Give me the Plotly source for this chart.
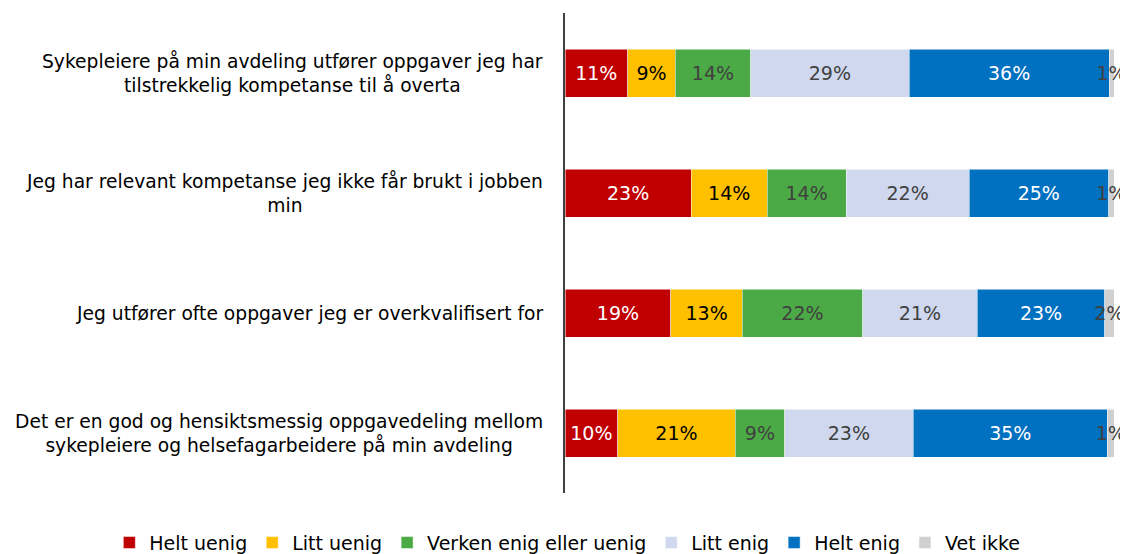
import plotly.graph_objects as go

categories = [
    "Sykepleiere på min avdeling utfører oppgaver jeg har<br>tilstrekkelig kompetanse til å overta",
    "Jeg har relevant kompetanse jeg ikke får brukt i jobben<br>min",
    "Jeg utfører ofte oppgaver jeg er overkvalifisert for",
    "Det er en god og hensiktsmessig oppgavedeling mellom<br>sykepleiere og helsefagarbeidere på min avdeling",
]
series_names = ["Helt uenig", "Litt uenig", "Verken enig eller uenig", "Litt enig", "Helt enig", "Vet ikke"]
helt_uenig = [11.4, 23.0, 19.3, 9.6]
litt_uenig = [8.7, 13.8, 13.0, 21.4]
verken = [13.7, 14.4, 21.9, 9.0]
litt_enig = [28.9, 22.4, 20.9, 23.4]
helt_enig = [36.4, 25.4, 23.2, 35.4]
vet_ikke = [0.9, 1.0, 1.7, 1.2]

values = [helt_uenig, litt_uenig, verken, litt_enig, helt_enig, vet_ikke]
colors = ["#C00000", "#FFC000", "#4BAA45", "#CFD8EE", "#0070C0", "#D0D0D0"]
text_colors = ["#FFFFFF", "#000000", "#404040", "#404040", "#FFFFFF", "#404040"]

FONT = "DejaVu Sans"

fig = go.Figure()
for name, vals, col, tcol in zip(series_names, values, colors, text_colors):
    fig.add_trace(go.Bar(
        y=categories, x=vals, name=name, orientation="h",
        marker=dict(color=col, line=dict(color="white", width=0.5)),
        texttemplate="%{x:.0f}%", textposition="inside",
        insidetextanchor="middle", textangle=0,
        textfont=dict(color=tcol, size=19, family=FONT),
        cliponaxis=False,
    ))

for cat in categories:
    fig.add_annotation(
        x=0, xref="paper", xanchor="right", xshift=-20,
        y=cat, yref="y", text=cat, showarrow=False, align="center",
        font=dict(size=18.7, family=FONT, color="#000000"),
    )

fig.update_layout(
    barmode="stack", bargap=0.6,
    width=1120, height=546,
    margin=dict(l=557, r=14, t=5, b=61, autoexpand=False),
    plot_bgcolor="white", paper_bgcolor="white",
    uniformtext=dict(minsize=19, mode="show"),
    font=dict(family=FONT, size=19, color="#000000"),
    xaxis=dict(range=[0, 100], showgrid=False, showticklabels=False, zeroline=False, fixedrange=True),
    yaxis=dict(categoryorder="array", categoryarray=categories, autorange="reversed",
               showticklabels=False, showline=True, linecolor="#404040", linewidth=1.5,
               ticks="", showgrid=False),
    legend=dict(orientation="h", xref="paper", yref="paper", x=-0.830, xanchor="left",
                y=-0.064, yanchor="top", font=dict(size=19, family=FONT, color="#000000"),
                traceorder="normal", itemwidth=30, tracegroupgap=0),
    showlegend=True,
)

fig.write_html("out.html")
